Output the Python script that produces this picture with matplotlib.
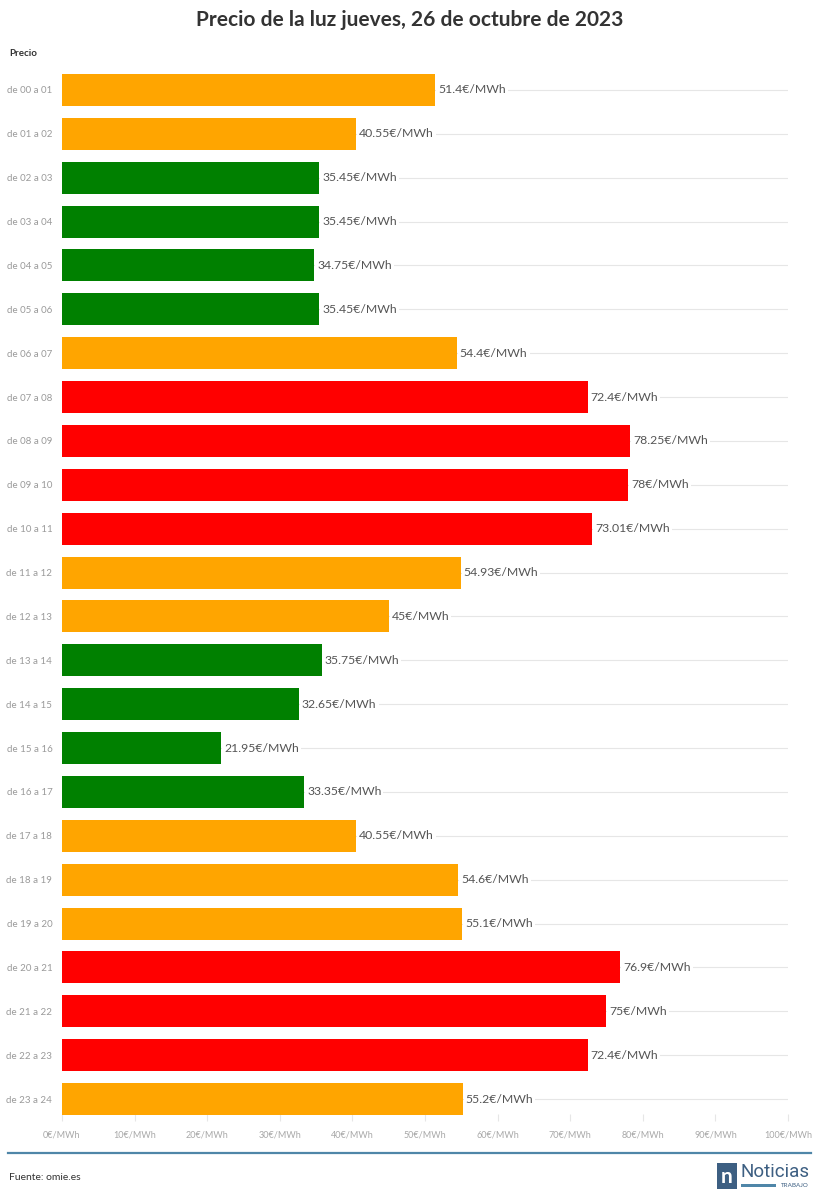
import matplotlib
matplotlib.use("Agg")
import matplotlib.pyplot as plt
from matplotlib.patches import Rectangle

categories = ["de 00 a 01", "de 01 a 02", "de 02 a 03", "de 03 a 04", "de 04 a 05", "de 05 a 06",
              "de 06 a 07", "de 07 a 08", "de 08 a 09", "de 09 a 10", "de 10 a 11", "de 11 a 12",
              "de 12 a 13", "de 13 a 14", "de 14 a 15", "de 15 a 16", "de 16 a 17", "de 17 a 18",
              "de 18 a 19", "de 19 a 20", "de 20 a 21", "de 21 a 22", "de 22 a 23", "de 23 a 24"]
prices = [51.4, 40.55, 35.45, 35.45, 34.75, 35.45, 54.4, 72.4, 78.25, 78, 73.01, 54.93,
          45, 35.75, 32.65, 21.95, 33.35, 40.55, 54.6, 55.1, 76.9, 75, 72.4, 55.2]
price_labels = ["51.4", "40.55", "35.45", "35.45", "34.75", "35.45", "54.4", "72.4", "78.25", "78",
                "73.01", "54.93", "45", "35.75", "32.65", "21.95", "33.35", "40.55", "54.6", "55.1",
                "76.9", "75", "72.4", "55.2"]
levels = ["mid", "mid", "low", "low", "low", "low", "mid", "high", "high", "high", "high", "mid",
          "mid", "low", "low", "low", "low", "mid", "mid", "mid", "high", "high", "high", "mid"]
level_colors = {"low": "#008000", "mid": "#FFA500", "high": "#FF0000"}
xticks = [0, 10, 20, 30, 40, 50, 60, 70, 80, 90, 100]
xtick_labels = [f"{t}€/MWh" for t in xticks]

plt.rcParams['font.family'] = ['Lato', 'DejaVu Sans']

fig = plt.figure(figsize=(8.19, 12), dpi=100)
ax = fig.add_axes([62/819, 1 - 1121/1200, (788-62)/819, (1121-68)/1200])

y = list(range(len(categories)))
for yi in y:
    ax.axhline(yi, color="#e6e6e6", lw=0.8, zorder=0)
ax.barh(y, prices, height=0.73, color=[level_colors[l] for l in levels], zorder=2)
for yi, v, lab in zip(y, prices, price_labels):
    ax.text(v + 0.4, yi, f"{lab}€/MWh", va="center", ha="left", fontsize=8.8, color="#555555",
            zorder=3, bbox=dict(facecolor="white", edgecolor="none", pad=1.5))

ax.set_xlim(0, 100)
ax.set_ylim(len(categories) - 0.5, -0.5)
ax.set_yticks(y)
ax.set_yticklabels(categories, fontsize=7, color="#9a9a9a")
ax.set_xticks(xticks)
ax.set_xticklabels(xtick_labels, fontsize=6.5, color="#a8a8a8")
ax.tick_params(axis="y", length=0, pad=7)
ax.tick_params(axis="x", length=5, color="#e6e6e6", pad=7, direction="in")
for s in ax.spines.values():
    s.set_visible(False)

fig.text(0.5, 1 - 20/1200, "Precio de la luz jueves, 26 de octubre de 2023", ha="center", va="center",
         fontsize=15, fontweight="bold", color="#333333")
fig.text(9/819, 1 - 53/1200, "Precio", ha="left", va="center", fontsize=7, fontweight="bold", color="#333333")

# footer
fig.add_artist(plt.Line2D([8/819, 811/819], [1 - 1153/1200, 1 - 1153/1200], color="#4f86a8", lw=1.6,
                          transform=fig.transFigure))
fig.text(9/819, 1 - 1177/1200, "Fuente: omie.es", ha="left", va="center", fontsize=7.5, color="#333333")

# logo
fig.add_artist(Rectangle((717/819, 1 - 1189/1200), 20/819, 26/1200, transform=fig.transFigure,
                         facecolor="#3d5f82", edgecolor="none"))
fig.text(727/819, 1 - 1177/1200, "n", ha="center", va="center", fontsize=15, fontweight="bold", color="white")
fig.text(741/819, 1 - 1172/1200, "Noticias", ha="left", va="center", fontsize=13.5, color="#3d5f82",
         fontfamily=["Roboto", "DejaVu Sans"])
fig.add_artist(Rectangle((741/819, 1 - 1187/1200), 35/819, 3/1200, transform=fig.transFigure,
                         facecolor="#4f86a8", edgecolor="none"))
fig.text(809/819, 1 - 1185.5/1200, "TRABAJO", ha="right", va="center", fontsize=4.5, color="#3d5f82")

fig.savefig("out.png", dpi=100, facecolor="white")
